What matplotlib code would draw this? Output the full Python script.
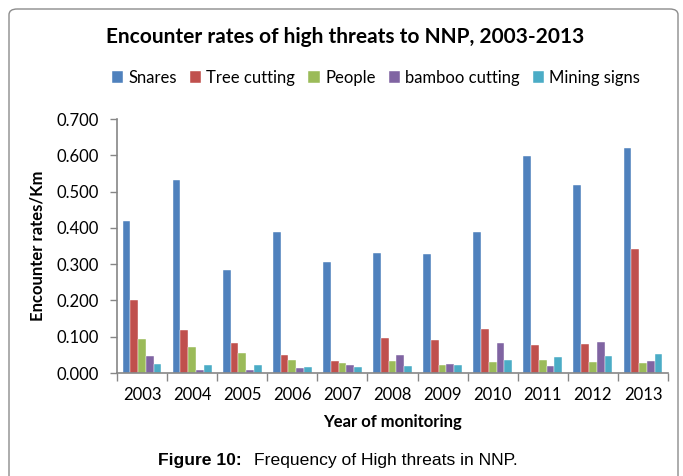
import numpy as np
import matplotlib.pyplot as plt
from matplotlib.patches import FancyBboxPatch

years = ['2003', '2004', '2005', '2006', '2007', '2008', '2009', '2010', '2011', '2012', '2013']
snares = [0.419, 0.531, 0.285, 0.389, 0.306, 0.331, 0.329, 0.389, 0.598, 0.517, 0.621]
tree_cutting = [0.202, 0.119, 0.083, 0.050, 0.032, 0.097, 0.092, 0.120, 0.077, 0.081, 0.342]
people = [0.094, 0.072, 0.055, 0.037, 0.028, 0.034, 0.023, 0.030, 0.035, 0.030, 0.028]
bamboo_cutting = [0.048, 0.009, 0.007, 0.015, 0.021, 0.050, 0.024, 0.083, 0.018, 0.085, 0.032]
mining_signs = [0.026, 0.023, 0.022, 0.017, 0.017, 0.020, 0.021, 0.037, 0.043, 0.048, 0.052]

series = [
    ('Snares', snares, '#4F81BD'),
    ('Tree cutting', tree_cutting, '#C0504D'),
    ('People', people, '#9BBB59'),
    ('bamboo cutting', bamboo_cutting, '#8064A2'),
    ('Mining signs', mining_signs, '#4BACC6'),
]

W, H = 683, 476
font = 'Lato'
fig = plt.figure(figsize=(W / 100, H / 100), dpi=100)

# rounded chart-area frame (bottom/right run off the page)
frame = FancyBboxPatch((9 / W, -0.1), 669 / W, (H - 9) / H + 0.1,
                       boxstyle='round,pad=0,rounding_size=0.012',
                       transform=fig.transFigure, fill=False,
                       edgecolor='#8c8c8c', linewidth=1.0)
fig.patches.append(frame)

ax = fig.add_axes([117 / W, (H - 373) / H, 551 / W, 254 / H])

x = np.arange(len(years))
bw = 0.155
for i, (name, vals, col) in enumerate(series):
    ax.bar(x + (i - 2) * bw, vals, bw, color=col, label=name,
           edgecolor='white', linewidth=0.3)

ax.set_xlim(-0.5, len(years) - 0.5)
ax.set_ylim(0, 0.7)
ax.set_yticks(np.arange(0, 0.71, 0.1))
ax.set_yticklabels(['%.3f' % v for v in np.arange(0, 0.71, 0.1)],
                   fontsize=12, family=font)
ax.set_xticks(x)
ax.set_xticklabels(years, fontsize=12, family=font)
ax.set_xticks(np.arange(-0.5, len(years)), minor=True)
ax.tick_params(axis='x', which='major', length=0, pad=10)
ax.tick_params(axis='x', which='minor', length=6, width=1, color='#868686',
               direction='out')
ax.tick_params(axis='y', length=5, width=1, color='#868686', direction='out', pad=8)

for s in ['top', 'right']:
    ax.spines[s].set_visible(False)
for s in ['left', 'bottom']:
    ax.spines[s].set_color('#868686')
    ax.spines[s].set_linewidth(1.2)

ax.set_xlabel('Year of monitoring', fontsize=12, fontweight='bold',
              family=font, labelpad=8)
ax.set_ylabel('Encounter rates/Km', fontsize=12, fontweight='bold',
              family=font, labelpad=8)

fig.text(345 / W, 1 - 37 / H, 'Encounter rates of high threats to NNP, 2003-2013',
         ha='center', va='center', fontsize=15, fontweight='bold', family=font)

leg = fig.legend(loc='center', bbox_to_anchor=(376 / W, 1 - 78 / H), ncol=5,
                 frameon=False, prop={'family': font, 'size': 12},
                 handlelength=0.7, handleheight=0.7, handletextpad=0.3,
                 columnspacing=0.78)

fig.text(158 / W, 1 - 461 / H, 'Figure 10:', ha='left', va='center',
         fontsize=12.6, fontweight='bold', family='Liberation Sans')
fig.text(254 / W, 1 - 461 / H, 'Frequency of High threats in NNP.', ha='left',
         va='center', fontsize=12.6, family='Liberation Sans')

fig.savefig('out.png', dpi=100)
